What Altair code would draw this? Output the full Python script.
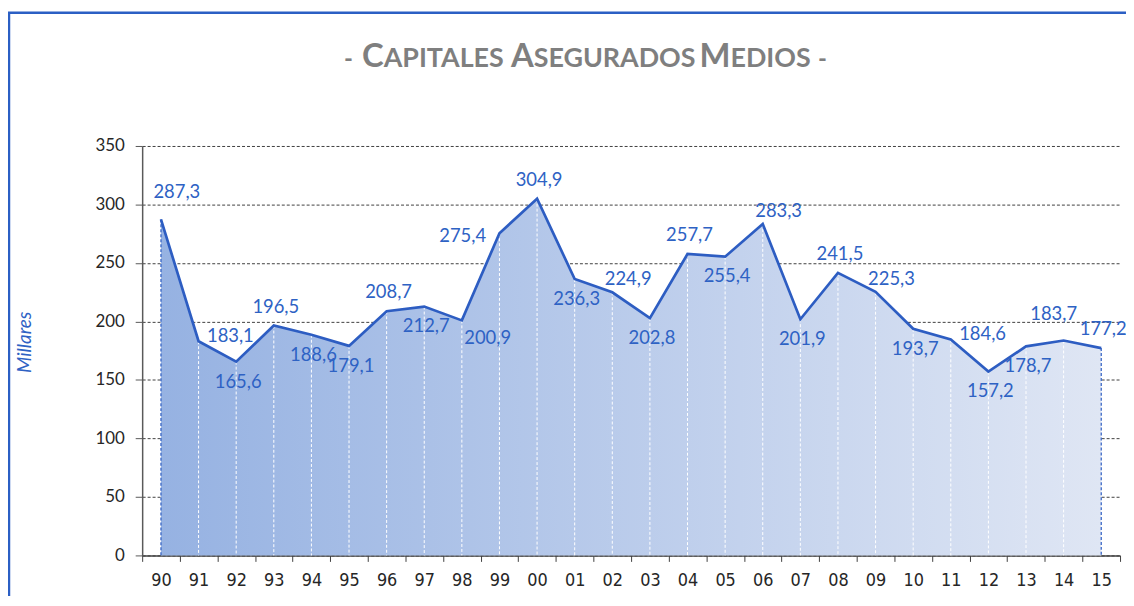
import altair as alt
import pandas as pd

# ---------------- data ----------------
years = ["90", "91", "92", "93", "94", "95", "96", "97", "98", "99", "00", "01", "02",
         "03", "04", "05", "06", "07", "08", "09", "10", "11", "12", "13", "14", "15"]
values = [287.3, 183.1, 165.6, 196.5, 188.6, 179.1, 208.7, 212.7, 200.9, 275.4, 304.9,
          236.3, 224.9, 202.8, 257.7, 255.4, 283.3, 201.9, 241.5, 225.3, 193.7, 184.6,
          157.2, 178.7, 183.7, 177.2]
label_side = ["top-right", "right", "below", "above", "below", "below", "above", "below",
              "below-right", "left", "above", "below", "above-right", "below", "above",
              "below", "above-right", "below", "above", "above-right", "below", "right",
              "below", "below", "top-left", "above"]
y_ticks = [0, 50, 100, 150, 200, 250, 300, 350]
title_parts = ["-", "C", "APITALES", "A", "SEGURADOS", "M", "EDIOS", "-"]
y_title = "Millares"

# ---------------- styling ----------------
W, H = 984, 412
N = len(years)
band = W / N
BLUE_TXT = "#2e62c4"
BLUE_LINE = "#2d5dc2"
FONT = "Lato"

offsets = {
    "above": (2, -19), "below": (2, 20), "right": (32, -5), "left": (-37, 3),
    "above-right": (16, -13), "below-right": (26, 18), "top-right": (16, -27),
    "top-left": (-10, -27),
}

df = pd.DataFrame({
    "idx": list(range(N)),
    "year": years,
    "value": values,
    "label": [f"{v:.1f}".replace(".", ",") for v in values],
    "side": label_side,
})

label_expr = "[" + ",".join(f"'{y}'" for y in years) + "][round(datum.value + 0.5)] || ''"

x_enc = alt.X(
    "idx:Q",
    scale=alt.Scale(domain=[-0.5, N - 0.5], nice=False, zero=False),
    axis=alt.Axis(
        values=[k - 0.5 for k in range(N + 1)],
        labelExpr=label_expr,
        labelOffset=band / 2,
        labelFlush=False,
        labelOverlap=False,
        labelBound=False,
        grid=False,
        tickSize=6,
        tickColor="#404040",
        domainColor="#404040",
        domainWidth=1.5,
        labelFont="Liberation Sans Narrow, DejaVu Sans Condensed, sans-serif",
        labelFontSize=18,
        labelColor="#262626",
        labelPadding=10,
    ),
    title=None,
)

y_enc = alt.Y(
    "value:Q",
    scale=alt.Scale(domain=[0, 350], nice=False),
    axis=alt.Axis(
        values=y_ticks,
        grid=True,
        gridDash=[3, 2],
        gridColor="#404040",
        gridWidth=1,
        tickSize=7,
        tickColor="#595959",
        domainColor="#595959",
        domainWidth=1.5,
        labelFont=FONT,
        labelFontSize=17,
        labelColor="#262626",
        labelPadding=11,
        title=y_title,
        titleFont=FONT,
        titleFontSize=19,
        titleFontStyle="italic",
        titleFontWeight="normal",
        titleColor=BLUE_TXT,
        titleX=-118,
        titleY=197,
        titleBaseline="middle",
        titleAngle=270,
    ),
)

base = alt.Chart(df)

area = base.mark_area(
    color=alt.Gradient(
        gradient="linear",
        stops=[alt.GradientStop(color="#96b2e2", offset=0),
               alt.GradientStop(color="#dfe6f4", offset=1)],
        x1=0, x2=1, y1=0, y2=0,
    ),
    opacity=1,
).encode(x=x_enc, y=y_enc)

drops = base.transform_filter(
    (alt.datum.idx > 0) & (alt.datum.idx < N - 1)
).mark_rule(color="white", strokeDash=[3, 2], strokeWidth=1).encode(
    x=x_enc, y=y_enc, y2=alt.datum(0)
)

edges = base.transform_filter(
    (alt.datum.idx == 0) | (alt.datum.idx == N - 1)
).mark_rule(color=BLUE_LINE, strokeDash=[3, 2], strokeWidth=1.2).encode(
    x=x_enc, y=y_enc, y2=alt.datum(0)
)

line = base.mark_line(color=BLUE_LINE, strokeWidth=2.7).encode(x=x_enc, y=y_enc)

text_layers = []
for side, (dx, dy) in offsets.items():
    text_layers.append(
        base.transform_filter(alt.datum.side == side).mark_text(
            dx=dx, dy=dy, font=FONT, fontSize=18.5, color=BLUE_TXT,
            align="center", baseline="middle",
        ).encode(x=x_enc, y=y_enc, text="label:N")
    )

# decorative frame and small-caps title
one = pd.DataFrame({"k": [0]})
frame = alt.Chart(one).mark_rect(
    fill=None, stroke="#2b5fc4", strokeWidth=2.5
).encode(
    x=alt.value(-134), x2=alt.value(1000), y=alt.value(-134), y2=alt.value(470)
)

# (anchor x, alignment, font size) for each title piece
title_layout = [
    (203, "left", 24),
    (243, "right", 33),
    (243, "left", 27),
    (394, "right", 33),
    (394, "left", 27),
    (592, "right", 33),
    (592, "left", 27),
    (680, "left", 24),
]
title_layers = []
for part, (px, al, fs) in zip(title_parts, title_layout):
    title_layers.append(
        alt.Chart(one).mark_text(
            text=part, font=FONT, fontSize=fs, fontWeight="bold", color="#7f7f7f",
            align=al, baseline="alphabetic",
        ).encode(x=alt.value(px), y=alt.value(-79))
    )

chart = alt.layer(
    area, drops, edges, line, *text_layers, frame, *title_layers
).properties(
    width=W,
    height=H,
    autosize=alt.AutoSizeParams(type="none"),
    padding={"left": 135, "top": 137, "right": 6, "bottom": 39},
).configure_view(stroke=None)

chart.save("out.html", embed_options={"renderer": "svg", "actions": False})
